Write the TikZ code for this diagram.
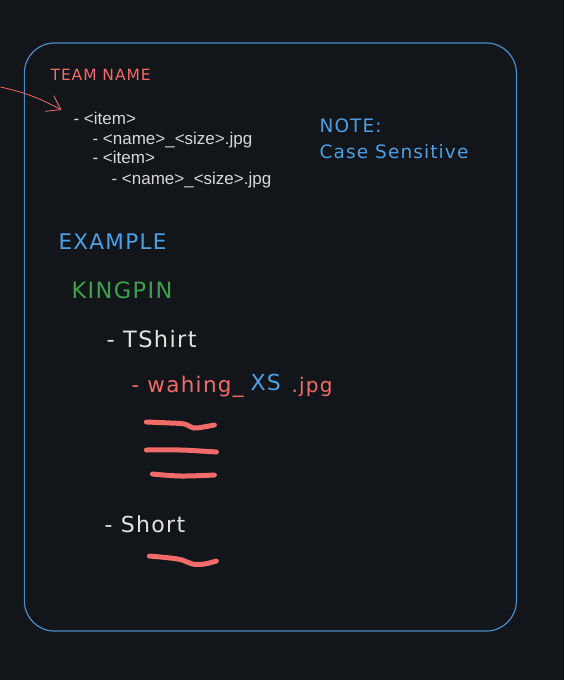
\documentclass[tikz,border=0pt]{standalone}
\usepackage{fontspec}
\setmainfont{Liberation Sans}
\newfontfamily\handfont{DejaVu Sans}[LetterSpace=6]
\usetikzlibrary{arrows.meta}

\definecolor{bgdark}{HTML}{121519}
\definecolor{frameblue}{HTML}{4A8CCB}
\definecolor{noteblue}{HTML}{4E9FE3}
\definecolor{markred}{HTML}{F26B6B}
\definecolor{kinggreen}{HTML}{3FA04C}
\definecolor{chalk}{HTML}{E2E2E2}

\tikzset{
  hand/.style={font=\handfont, anchor=base west, inner sep=0pt},
  listline/.style={font=\fontsize{17}{18}\selectfont, text=chalk!90!gray, anchor=base west, inner sep=0pt},
  scribble/.style={markred, line width=5pt, line cap=round, line join=round}
}
\newcommand{\squiggle}[1]
{   \draw[scribble] plot[smooth, tension=0.6] coordinates {#1};
}

\begin{document}
\begin{tikzpicture}[x=1pt,y=-1pt]
 \fill[bgdark] (0,0) rectangle (564,680);
 \draw[frameblue, line width=1.2pt, rounded corners=30pt] (24,43) rectangle (516,631);

 % heading and the pattern
 \node[hand, text=markred, font=\handfont\fontsize{15.5}{16}\selectfont] (team) at (50,80) {TEAM NAME};
 \node[listline] (itemA) at (73,124) {- <item>};
 \node[listline] (fileA) at (92,144) {- <name>\_<size>.jpg};
 \node[listline] (itemB) at (92,163) {- <item>};
 \node[listline] (fileB) at (111,184) {- <name>\_<size>.jpg};
 \coordinate (from) at (0,87);
 \coordinate (to) at (61,110);
 \draw[markred, line width=0.8pt, -{Straight Barb[length=13pt, width=18pt]}] (from) to[bend left=8] (to);

 % note
 \node[hand, text=noteblue, font=\handfont\fontsize{18.5}{24}\selectfont] (note) at (319,132) {NOTE:};
 \node[hand, text=noteblue, font=\handfont\fontsize{18.5}{24}\selectfont] (casesens) at (319,158) {Case Sensitive};

 % example
 \node[hand, text=noteblue, font=\handfont\fontsize{21.5}{24}\selectfont] (example) at (58,249) {EXAMPLE};
 \node[hand, text=kinggreen, font=\handfont\fontsize{22.5}{24}\selectfont] (kingpin) at (71,298) {KINGPIN};
 \node[hand, text=chalk, font=\handfont\fontsize{22.5}{26}\selectfont] (tshirt) at (106,347) {- TShirt};
 \node[hand, text=markred, font=\handfont\fontsize{21.5}{24}\selectfont] (wahing) at (131,392) {- wahing\_};
 \node[hand, text=noteblue, font=\handfont\fontsize{22}{24}\selectfont] (xs) at (250,390) {XS};
 \node[hand, text=markred, font=\handfont\fontsize{20}{24}\selectfont] (jpg) at (291,392) {.jpg};

 \squiggle{(146,422) (170,423) (184,424) (193,428) (203,427) (214,425)}
 \squiggle{(146,450) (180,450) (200,451) (216,452)}
 \squiggle{(152,474) (180,476) (214,475)}

 \node[hand, text=chalk, font=\handfont\fontsize{22}{26}\selectfont] (short) at (104,532) {- Short};
 \squiggle{(149,556) (170,558) (182,560) (192,564) (204,564) (216,561)}
\end{tikzpicture}
\end{document}
